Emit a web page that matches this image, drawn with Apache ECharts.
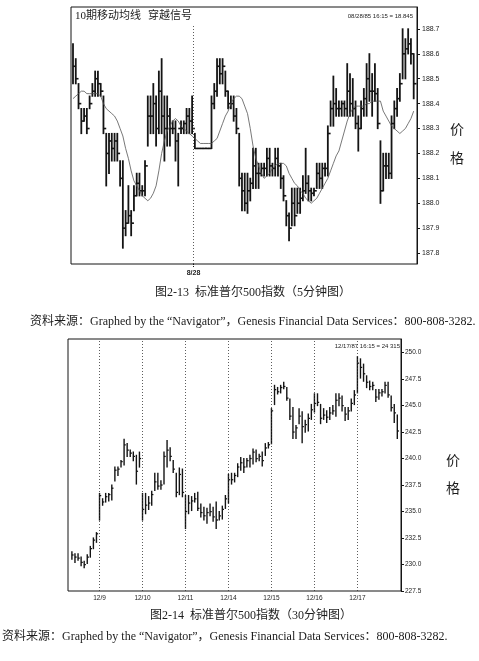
<!DOCTYPE html>
<html><head><meta charset="utf-8">
<script src="https://cdn.jsdelivr.net/npm/echarts@6/dist/echarts.min.js"></script>
<style>html,body{margin:0;padding:0;background:#fff}#c{width:479px;height:661px}</style>
</head><body><div id="c"></div>
<script>
// ---------- Figure 2-13: S&P 500, 5-minute bars ----------
const fiveMinHigh = [188.64,188.58,188.48,188.38,188.38,188.38,188.43,188.48,188.53,188.53,
 188.48,188.43,188.28,188.28,188.28,188.28,188.28,188.17,188.17,187.97,
 188.07,187.97,188.07,188.12,188.12,188.07,188.17,188.43,188.43,188.48,
 188.43,188.53,188.58,188.43,188.43,188.38,188.33,188.33,188.28,188.33,
 188.33,188.38,188.38,188.43,188.28,188.22,188.22,188.22,188.22,188.22,
 188.43,188.48,188.58,188.58,188.58,188.53,188.45,188.43,188.43,188.38,
 188.28,188.12,188.12,188.12,188.10,188.22,188.22,188.16,188.16,188.16,
 188.22,188.22,188.16,188.22,188.22,188.16,188.11,188.01,187.96,188.06,
 188.06,188.06,188.06,188.11,188.22,188.11,188.06,188.06,188.16,188.16,
 188.16,188.16,188.31,188.41,188.51,188.46,188.41,188.41,188.41,188.56,
 188.52,188.50,188.41,188.35,188.41,188.46,188.56,188.60,188.52,188.56,
 188.46,188.25,188.20,188.20,188.20,188.35,188.41,188.46,188.52,188.70,
 188.66,188.70,188.66,188.60];
const fiveMinLow = [188.48,188.48,188.38,188.28,188.33,188.28,188.38,188.43,188.43,188.43,
 188.43,188.28,188.07,188.12,188.17,188.17,188.17,188.07,187.82,187.87,
 187.92,187.87,187.97,188.03,188.03,188.03,188.03,188.23,188.28,188.28,
 188.23,188.28,188.28,188.17,188.23,188.23,188.28,188.17,188.07,188.28,
 188.28,188.28,188.28,188.28,188.22,188.22,188.22,188.22,188.22,188.22,
 188.22,188.38,188.43,188.48,188.48,188.43,188.38,188.38,188.33,188.28,
 188.07,187.97,187.97,187.96,188.01,188.06,188.06,188.06,188.11,188.11,
 188.11,188.11,188.11,188.11,188.11,188.06,188.01,187.91,187.85,187.91,
 187.91,187.96,187.96,188.01,188.04,188.01,188.01,188.03,188.06,188.06,
 188.06,188.11,188.11,188.31,188.31,188.35,188.35,188.35,188.35,188.35,
 188.35,188.35,188.30,188.21,188.30,188.35,188.35,188.41,188.35,188.41,
 188.30,188.00,188.05,188.10,188.10,188.10,188.30,188.35,188.41,188.50,
 188.50,188.60,188.56,188.42];
const fiveMinClose = [188.55,188.50,188.40,188.33,188.35,188.30,188.40,188.45,188.50,188.48,
 188.45,188.30,188.20,188.25,188.22,188.25,188.20,188.10,187.90,187.92,
 187.95,187.92,188.03,188.08,188.05,188.05,188.15,188.35,188.35,188.40,
 188.30,188.45,188.35,188.30,188.35,188.30,188.30,188.25,188.30,188.30,
 188.32,188.35,188.33,188.30,188.22,188.22,188.22,188.22,188.22,188.22,
 188.40,188.45,188.55,188.52,188.55,188.45,188.40,188.40,188.35,188.30,
 188.10,188.05,188.00,188.05,188.08,188.15,188.12,188.12,188.14,188.14,
 188.18,188.15,188.14,188.18,188.15,188.10,188.03,187.95,187.90,188.00,
 187.95,188.00,188.02,188.05,188.08,188.05,188.04,188.05,188.12,188.10,
 188.14,188.14,188.28,188.38,188.40,188.38,188.38,188.40,188.38,188.45,
 188.40,188.38,188.32,188.30,188.38,188.42,188.50,188.45,188.45,188.44,
 188.32,188.05,188.15,188.15,188.12,188.32,188.38,188.42,188.48,188.60,
 188.62,188.64,188.60,188.48];
const fiveMinMA10 = [188.42,188.43,188.44,188.45,188.45,188.44,188.44,188.44,188.44,188.44,
 188.43,188.40,188.38,188.37,188.36,188.35,188.33,188.30,188.27,188.22,
 188.18,188.13,188.09,188.07,188.05,188.03,188.02,188.01,188.02,188.04,
 188.07,188.13,188.20,188.25,188.29,188.31,188.33,188.34,188.33,188.31,
 188.30,188.29,188.28,188.27,188.26,188.25,188.24,188.24,188.24,188.24,
 188.24,188.25,188.26,188.29,188.32,188.35,188.37,188.40,188.42,188.43,
 188.43,188.42,188.39,188.36,188.30,188.23,188.18,188.15,188.12,188.10,
 188.11,188.12,188.14,188.15,188.16,188.16,188.16,188.15,188.12,188.10,
 188.08,188.07,188.05,188.04,188.02,188.01,188.00,188.01,188.02,188.04,
 188.06,188.08,188.10,188.13,188.16,188.19,188.21,188.25,188.29,188.33,
 188.36,188.38,188.39,188.39,188.39,188.39,188.40,188.40,188.41,188.41,
 188.41,188.41,188.37,188.35,188.33,188.31,188.30,188.29,188.28,188.29,
 188.30,188.32,188.34,188.37];
const fiveMinTicks = [187.8,187.9,188.0,188.1,188.2,188.3,188.4,188.5,188.6,188.7];
const fiveMinDayStart = [43.5];
const fiveMinDayLabels = ['8/28'];

// ---------- Figure 2-14: S&P 500, 30-minute bars ----------
const thirtyMinHigh = [231.2,231.0,231.0,230.7,230.3,230.9,231.7,232.5,233.0,
 236.7,236.2,236.7,236.7,237.5,239.2,239.2,239.8,241.8,241.4,240.8,240.6,240.3,240.6,
 236.7,236.7,236.4,236.9,238.6,238.6,237.9,240.6,241.7,241.0,239.8,238.6,239.1,239.0,
 236.5,236.5,236.4,236.7,236.8,235.7,235.4,235.3,235.7,235.4,235.9,235.0,235.5,236.5,
 238.5,238.6,238.6,239.5,240.1,240.0,240.0,240.3,240.9,240.8,240.4,240.6,241.4,241.5,
 244.7,246.9,246.7,246.9,247.2,246.7,245.6,244.8,243.1,244.7,244.4,243.6,244.2,245.1,
 246.1,246.1,245.1,244.7,244.5,244.8,245.0,246.1,246.1,245.9,244.8,244.8,245.6,246.4,
 249.6,249.4,248.9,247.8,247.3,247.2,246.5,246.5,246.5,247.2,247.2,245.9,245.1,244.1];
const thirtyMinLow = [230.5,230.2,230.4,229.9,229.7,230.1,230.7,231.5,232.1,
 234.2,235.6,235.9,236.0,236.1,237.9,238.4,239.2,239.4,240.2,240.2,239.8,237.6,239.2,
 234.2,234.8,235.2,235.6,237.0,237.1,237.1,237.6,239.2,239.8,238.7,236.4,236.6,236.4,
 233.4,234.8,235.1,235.9,235.1,234.5,234.2,233.9,234.6,234.1,233.4,234.2,234.3,235.3,
 235.8,237.6,237.8,238.3,238.9,238.7,239.2,239.2,239.5,239.7,239.8,239.3,240.3,241.0,
 241.4,245.1,246.1,246.2,246.6,245.5,243.7,241.9,241.9,243.3,241.5,242.5,242.6,243.7,
 244.4,245.0,243.3,243.7,243.4,243.7,244.2,244.0,245.0,244.5,243.6,243.7,244.5,245.1,
 246.2,247.6,247.3,246.7,246.5,246.5,245.4,245.6,245.9,246.2,245.8,244.5,243.4,241.9];
const thirtyMinClose = [230.9,230.7,230.6,230.2,230.0,230.7,231.5,232.3,232.9,
 236.5,235.9,236.4,236.6,237.2,238.9,239.0,239.7,241.3,240.8,240.5,240.2,238.8,240.0,
 235.2,235.6,235.8,236.6,237.8,237.4,237.5,240.2,240.8,240.2,239.0,236.8,238.5,236.8,
 235.0,235.8,236.0,236.2,235.3,234.9,234.6,234.9,235.0,234.5,234.2,234.6,235.2,236.2,
 238.0,238.0,238.4,239.2,239.6,239.2,239.8,240.0,240.6,240.0,240.2,239.8,241.0,241.3,
 244.5,246.5,246.3,246.7,246.8,245.7,244.0,242.5,242.9,244.0,243.0,243.2,243.8,244.6,
 245.2,245.3,243.8,244.1,243.9,244.3,244.5,245.5,245.7,245.0,244.2,244.5,245.2,246.0,
 249.0,248.6,248.0,247.2,246.8,246.9,245.8,246.2,246.3,246.9,246.0,244.8,244.3,242.6];
const thirtyMinTicks = [227.5,230.0,232.5,235.0,237.5,240.0,242.5,245.0,247.5,250.0];
const thirtyMinDayStarts = [9,23,37,51,65,79,93];
const thirtyMinDayLabels = ['12/9','12/10','12/11','12/14','12/15','12/16','12/17'];

const INK = '#141414';
const SERIF = "'Liberation Serif','Noto Sans CJK SC',serif";
const SANS = "'Liberation Sans','DejaVu Sans',sans-serif";

function hlcRenderer(tickLen, width) {
  return function (params, api) {
    const x = api.value(0);
    const h = api.coord([x, api.value(1)]);
    const l = api.coord([x, api.value(2)]);
    const c = api.coord([x, api.value(3)]);
    return {
      type: 'group',
      children: [
        { type: 'line', shape: { x1: h[0], y1: h[1] - 0.6, x2: l[0], y2: l[1] + 0.6 },
          style: { stroke: INK, lineWidth: width } },
        { type: 'line', shape: { x1: c[0], y1: c[1], x2: c[0] + tickLen, y2: c[1] },
          style: { stroke: INK, lineWidth: width * 0.9 } }
      ]
    };
  };
}

function txt(text, x, y, size, family, align, extra) {
  return {
    type: 'text', silent: true,
    style: Object.assign({
      text: text, x: x, y: y, fill: '#1c1c1c',
      fontSize: size, fontFamily: family,
      textAlign: align || 'left', textVerticalAlign: 'middle',
      align: align || 'left', verticalAlign: 'middle'
    }, extra || {})
  };
}

const fmt1 = v => Number(v).toFixed(1);

const chart = echarts.init(document.getElementById('c'), null, { renderer: 'canvas' });
chart.setOption({
  animation: false,
  backgroundColor: '#fff',
  grid: [
    { left: 71, top: 7, width: 346, height: 257, show: true, borderColor: INK, borderWidth: 1, containLabel: false },
    { left: 68, top: 339, width: 333, height: 252, show: true, borderColor: INK, borderWidth: 1, containLabel: false }
  ],
  xAxis: [
    { type: 'value', gridIndex: 0, min: -0.72, max: 124.19,
      axisLine: { show: false, onZero: false }, splitLine: { show: false },
      axisTick: { show: true, customValues: fiveMinDayStart, length: 4, lineStyle: { color: INK, type: 'dotted' } },
      axisLabel: { customValues: fiveMinDayStart, margin: 6, fontSize: 7, fontWeight: 'bold', fontFamily: SANS, color: '#222',
        formatter: v => fiveMinDayLabels[fiveMinDayStart.indexOf(v)] || '' } },
    { type: 'value', gridIndex: 1, min: -1.27, max: 107.2,
      axisLine: { show: false, onZero: false }, splitLine: { show: false }, axisTick: { show: false },
      axisLabel: { customValues: thirtyMinDayStarts, margin: 4, fontSize: 6.5, fontFamily: SANS, color: '#222',
        formatter: v => thirtyMinDayLabels[thirtyMinDayStarts.indexOf(v)] || '' } }
  ],
  yAxis: [
    { type: 'value', gridIndex: 0, position: 'right', min: 187.756, max: 188.788,
      axisLine: { show: true, onZero: false, lineStyle: { color: INK, width: 1 } },
      axisTick: { show: true, customValues: fiveMinTicks, length: 3, lineStyle: { color: INK } },
      splitLine: { show: false },
      axisLabel: { customValues: fiveMinTicks, formatter: fmt1, margin: 5, fontSize: 7, fontFamily: SANS, color: '#222' } },
    { type: 'value', gridIndex: 1, position: 'right', min: 227.5, max: 251.28,
      axisLine: { show: true, onZero: false, lineStyle: { color: INK, width: 1 } },
      axisTick: { show: true, customValues: thirtyMinTicks, length: 3, lineStyle: { color: INK } },
      splitLine: { show: false },
      axisLabel: { customValues: thirtyMinTicks, formatter: fmt1, margin: 4, fontSize: 6.5, fontFamily: SANS, color: '#222' } }
  ],
  series: [
    { type: 'custom', xAxisIndex: 0, yAxisIndex: 0, clip: true, silent: true,
      renderItem: hlcRenderer(2.77, 1.8),
      encode: { x: 0, y: [1, 2, 3] },
      data: fiveMinHigh.map((h, i) => [i, h, fiveMinLow[i], fiveMinClose[i]]) },
    { type: 'line', xAxisIndex: 0, yAxisIndex: 0, silent: true, showSymbol: false, symbol: 'none',
      lineStyle: { width: 0.8, color: '#555' },
      data: fiveMinMA10.map((v, i) => [i, v]),
      markLine: { silent: true, symbol: ['none', 'none'], label: { show: false },
        lineStyle: { color: '#333', width: 0.8, type: [1, 2] },
        data: fiveMinDayStart.map(v => [{ coord: [v, 187.756] }, { coord: [v, 188.716] }]) } },
    { type: 'custom', xAxisIndex: 1, yAxisIndex: 1, clip: true, silent: true,
      renderItem: hlcRenderer(1.7, 1.4),
      encode: { x: 0, y: [1, 2, 3] },
      data: thirtyMinHigh.map((h, i) => [i, h, thirtyMinLow[i], thirtyMinClose[i]]),
      markLine: { silent: true, symbol: ['none', 'none'], label: { show: false },
        lineStyle: { color: '#333', width: 0.8, type: [1, 2] },
        data: thirtyMinDayStarts.map(v => ({ xAxis: v })) } }
  ],
  graphic: [
    txt('10期移动均线', 75, 16, 11, SERIF),
    txt('穿越信号', 148, 16, 11, SERIF),
    txt('08/28/85 16:15 = 18.845', 413, 16, 6, SANS, 'right'),
    txt('价', 457, 130, 14, SERIF, 'center'),
    txt('格', 457, 159, 14, SERIF, 'center'),
    txt('图2-13  标准普尔500指数（5分钟图）', 253, 293, 12, SERIF, 'center'),
    txt('资料来源：Graphed by the “Navigator”，Genesis Financial Data Services：800-808-3282.', 30, 322, 12, SERIF),
    txt('12/17/87 16:15 = 24 315', 400, 346, 6, SANS, 'right'),
    txt('价', 453, 461, 14, SERIF, 'center'),
    txt('格', 453, 489, 14, SERIF, 'center'),
    txt('图2-14  标准普尔500指数（30分钟图）', 251, 616, 12, SERIF, 'center'),
    txt('资料来源：Graphed by the “Navigator”，Genesis Financial Data Services：800-808-3282.', 2, 637, 12, SERIF)
  ]
});
</script></body></html>
